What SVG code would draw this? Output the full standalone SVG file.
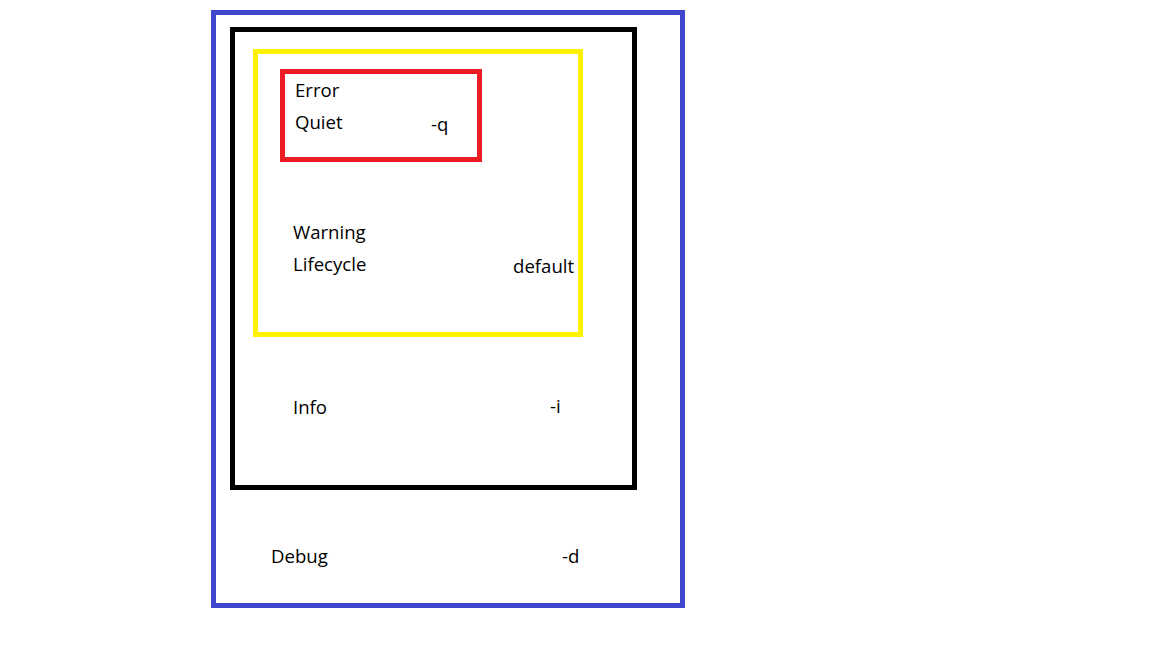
<svg xmlns="http://www.w3.org/2000/svg" width="1152" height="648" viewBox="0 0 1152 648">
<style>
.box{fill:none;stroke-width:5}
.t{font-family:"Open Sans","Noto Sans","DejaVu Sans",sans-serif;font-size:18.6px;fill:#000}
</style>
<rect width="1152" height="648" fill="#fff"/>
<g id="debug-level">
<rect class="box" x="213.5" y="12.5" width="469" height="593" stroke="#3F48CC"/>
<text class="t" x="271" y="563">Debug</text>
<text class="t" x="562" y="563">-d</text>
</g>
<g id="info-level">
<rect class="box" x="232.5" y="29.5" width="402" height="458" stroke="#000"/>
<text class="t" x="293" y="414">Info</text>
<text class="t" x="550" y="413">-i</text>
</g>
<g id="warning-level">
<rect class="box" x="255.5" y="51.5" width="325" height="283" stroke="#FFF200"/>
<text class="t" x="293" y="239">Warning</text>
<text class="t" x="293" y="271">Lifecycle</text>
<text class="t" x="513" y="273">default</text>
</g>
<g id="error-level">
<rect class="box" x="282.5" y="71.5" width="197" height="88" stroke="#ED1C24"/>
<text class="t" x="295" y="97">Error</text>
<text class="t" x="295" y="129">Quiet</text>
<text class="t" x="431" y="131">-q</text>
</g>
<g id="connectors"/>
</svg>
